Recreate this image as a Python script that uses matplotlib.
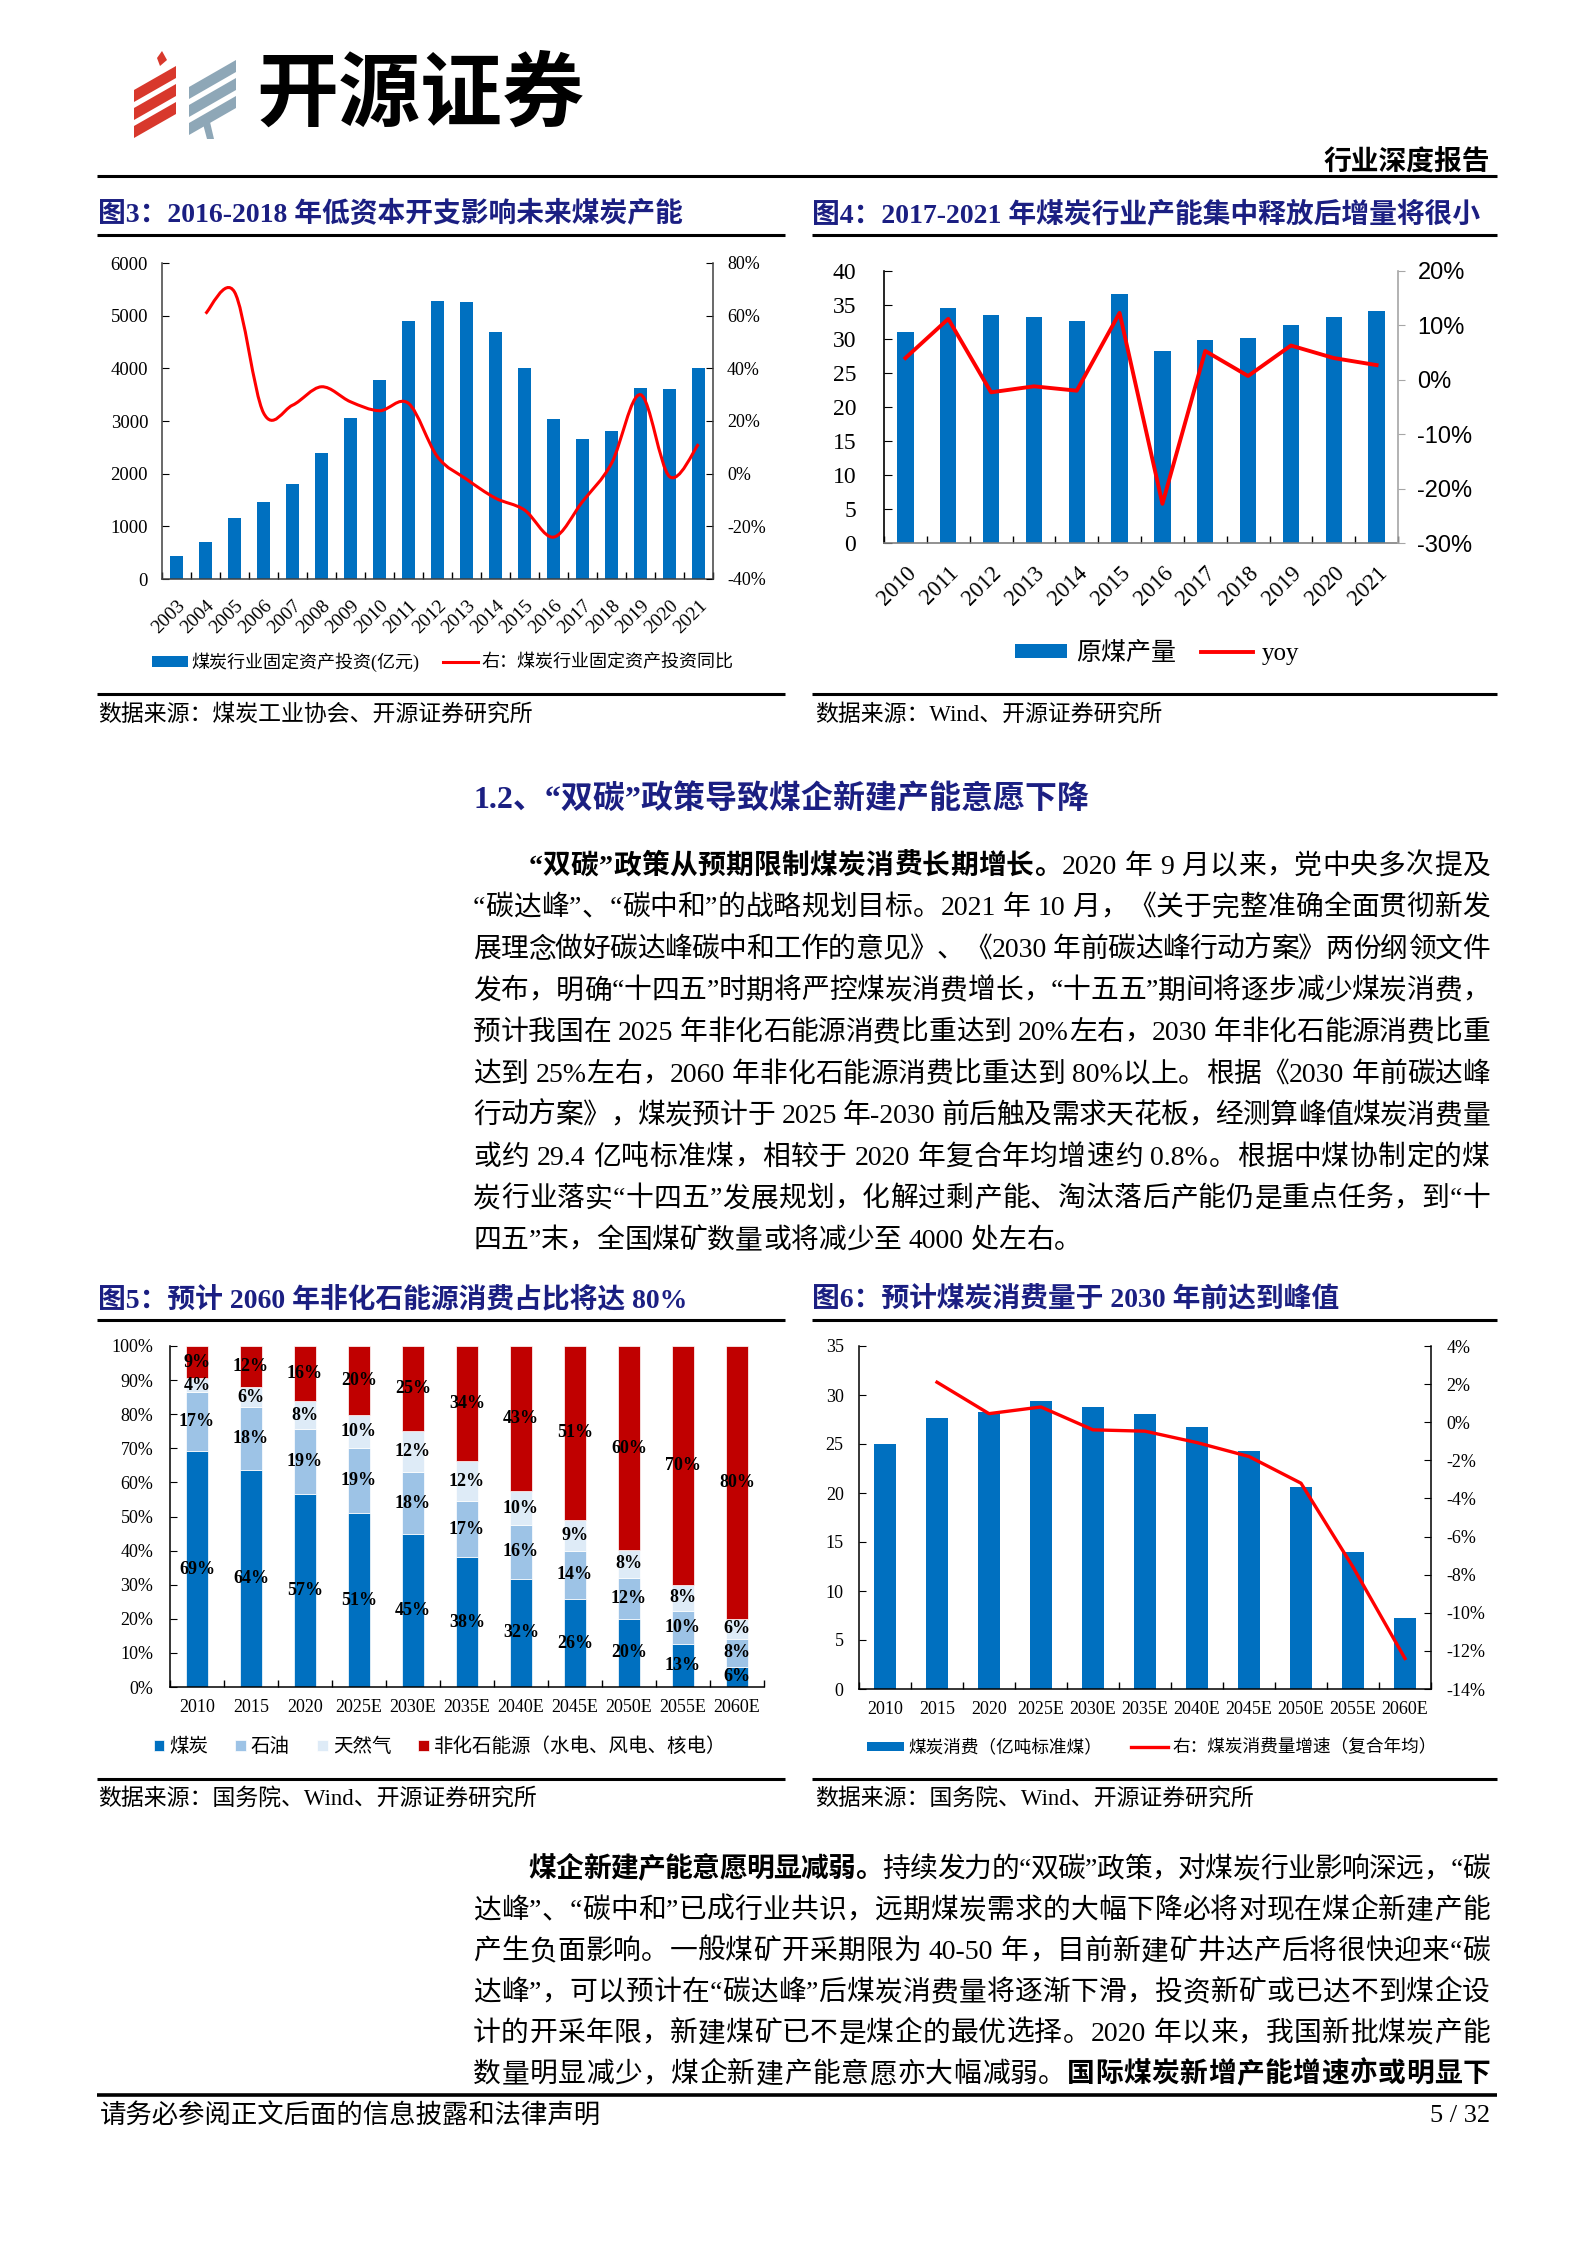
import matplotlib
matplotlib.use('Agg')
import matplotlib.pyplot as plt
from matplotlib.patches import Polygon, PathPatch
from matplotlib.path import Path
from matplotlib.lines import Line2D
from matplotlib.ticker import FuncFormatter
import numpy as np

W, H, DPI = 1587, 2245, 100
SERIF = ['Liberation Serif', 'Noto Sans CJK SC']
SANS = ['Liberation Sans', 'Noto Sans CJK SC']
CJK = ['Noto Sans CJK SC', 'DejaVu Sans']
NAVY = '#1b1f82'
BLUE = '#0070C0'
RED = '#FF0000'

plt.rcParams['font.family'] = SERIF
plt.rcParams['axes.unicode_minus'] = False

# ---------------- data ----------------
fig3_years = [str(y) for y in range(2003, 2022)]
fig3_invest = [430, 700, 1160, 1465, 1810, 2400, 3055, 3780, 4905, 5285,
               5265, 4685, 4005, 3040, 2655, 2810, 3630, 3605, 4005]
fig3_yoy = [60.8, 69.0, 23.1, 26.0, 33.0, 27.3, 23.9, 26.7, 6.4, -2.1,
            -9.3, -13.8, -24.1, -10.6, 3.9, 30.0, -1.1, 11.2]  # 2004-2021

fig4_years = [str(y) for y in range(2010, 2022)]
fig4_output = [31.1, 34.5, 33.5, 33.2, 32.6, 36.6, 28.3, 29.9, 30.1, 32.0, 33.2, 34.1]
fig4_yoy = [4.0, 11.2, -2.3, -1.2, -2.0, 12.3, -22.8, 5.3, 0.7, 6.3, 4.0, 2.7]

fig5_years = ['2010', '2015', '2020', '2025E', '2030E', '2035E', '2040E',
              '2045E', '2050E', '2055E', '2060E']
fig5_coal = [69.2, 63.7, 56.6, 51.0, 44.9, 38.0, 31.8, 25.8, 20.0, 12.6, 5.9]
fig5_oil = [17.2, 18.3, 19.0, 19.0, 18.1, 16.6, 15.6, 14.2, 12.1, 9.8, 8.2]
fig5_gas = [4.2, 6.0, 8.3, 9.9, 12.0, 11.6, 10.0, 9.0, 8.0, 7.6, 5.9]
fig5_nonfossil = [9.4, 12.0, 16.1, 20.1, 25.0, 33.8, 42.6, 51.0, 59.9, 70.0, 80.0]
fig5_names = ['煤炭', '石油', '天然气', '非化石能源（水电、风电、核电）']

fig6_years = fig5_years
fig6_consumption = [25.0, 27.7, 28.3, 29.4, 28.8, 28.1, 26.7, 24.3, 20.6, 14.0, 7.2]
fig6_growth = [2.1, 0.45, 0.8, -0.4, -0.47, -1.07, -1.8, -3.2, -7.6, -12.4]  # 2015-2060E

para1 = [
    [('“双碳”政策从预期限制煤炭消费长期增长。', True), ('2020 年 9 月以来，党中央多次提及', False)],
    [('“碳达峰”、“碳中和”的战略规划目标。2021 年 10 月，《关于完整准确全面贯彻新发', False)],
    [('展理念做好碳达峰碳中和工作的意见》、《2030 年前碳达峰行动方案》两份纲领文件', False)],
    [('发布，明确“十四五”时期将严控煤炭消费增长，“十五五”期间将逐步减少煤炭消费，', False)],
    [('预计我国在 2025 年非化石能源消费比重达到 20%左右，2030 年非化石能源消费比重', False)],
    [('达到 25%左右，2060 年非化石能源消费比重达到 80%以上。根据《2030 年前碳达峰', False)],
    [('行动方案》，煤炭预计于 2025 年-2030 前后触及需求天花板，经测算峰值煤炭消费量', False)],
    [('或约 29.4 亿吨标准煤，相较于 2020 年复合年均增速约 0.8%。根据中煤协制定的煤', False)],
    [('炭行业落实“十四五”发展规划，化解过剩产能、淘汰落后产能仍是重点任务，到“十', False)],
    [('四五”末，全国煤矿数量或将减少至 4000 处左右。', False)],
]
para2 = [
    [('煤企新建产能意愿明显减弱。', True), ('持续发力的“双碳”政策，对煤炭行业影响深远，“碳', False)],
    [('达峰”、“碳中和”已成行业共识，远期煤炭需求的大幅下降必将对现在煤企新建产能', False)],
    [('产生负面影响。一般煤矿开采期限为 40-50 年，目前新建矿井达产后将很快迎来“碳', False)],
    [('达峰”，可以预计在“碳达峰”后煤炭消费量将逐渐下滑，投资新矿或已达不到煤企设', False)],
    [('计的开采年限，新建煤矿已不是煤企的最优选择。2020 年以来，我国新批煤炭产能', False)],
    [('数量明显减少，煤企新建产能意愿亦大幅减弱。', False), ('国际煤炭新增产能增速亦或明显下', True)],
]

fig = plt.figure(figsize=(W / DPI, H / DPI), dpi=DPI)
renderer = fig.canvas.get_renderer()


def fx(x):
    return x / W


def fy(y):
    return 1 - y / H


def axes_rect(l, t, r, b):
    return [fx(l), fy(b), (r - l) / W, (b - t) / H]


def hline(x0, x1, y, lw):
    fig.add_artist(Line2D([fx(x0), fx(x1)], [fy(y), fy(y)], transform=fig.transFigure,
                          color='black', lw=lw, solid_capstyle='butt'))


def pct(v, _):
    return f'{v:.0f}%'


# ---------------- justified body text ----------------
_widths = {}


def tok_width(tok, bold, fs):
    key = (tok, bold, fs)
    if key not in _widths:
        if tok == ' ':
            _widths[key] = 0.25 * fs * DPI / 72
        else:
            t = fig.text(0, 0, tok, fontsize=fs, family=SERIF, weight='bold' if bold else 'normal')
            _widths[key] = t.get_window_extent(renderer).width
            t.remove()
    return _widths[key]


def tokenize(segs):
    toks = []
    for s, b in segs:
        buf = ''
        for ch in s:
            if ch.isascii() and ch != ' ':
                buf += ch
            else:
                if buf:
                    toks.append((buf, b))
                    buf = ''
                toks.append((ch, b))
        if buf:
            toks.append((buf, b))
    return toks


def draw_line(segs, x0, x1, y, fs, justify):
    toks = tokenize(segs)
    widths = [tok_width(t, b, fs) for t, b in toks]
    gap = (x1 - x0 - sum(widths)) / (len(toks) - 1) if justify else 0
    x = x0
    for (t, b), w in zip(toks, widths):
        if t != ' ':
            fig.text(fx(x), fy(y), t, fontsize=fs, family=SERIF,
                     weight='bold' if b else 'normal', ha='left', va='baseline')
        x += w + gap


def draw_para(lines, y_center0, step, fs, last_justify):
    indent = 2 * fs * DPI / 72
    for i, segs in enumerate(lines):
        x0 = 473 + (indent if i == 0 else 0)
        justify = i < len(lines) - 1 or last_justify
        draw_line(segs, x0, 1490, y_center0 + i * step + 10.5, fs, justify)


def smooth_path(xs, ys):
    pts = np.column_stack([xs, ys]).astype(float)
    verts, codes = [pts[0]], [Path.MOVETO]
    n = len(pts)
    for i in range(n - 1):
        p0 = pts[i - 1] if i > 0 else pts[i]
        p1, p2 = pts[i], pts[i + 1]
        p3 = pts[i + 2] if i + 2 < n else pts[i + 1]
        verts += [p1 + (p2 - p0) / 6, p2 - (p3 - p1) / 6, p2]
        codes += [Path.CURVE4] * 3
    return Path(verts, codes)


def category_ticks(ax, n, labelsize, pad):
    x = np.arange(n)
    ax.set_xlim(-0.5, n - 0.5)
    ax.set_xticks(x)
    ax.set_xticks(np.arange(n + 1) - 0.5, minor=True)
    ax.tick_params(axis='x', which='major', length=0, pad=pad, labelsize=labelsize)
    ax.tick_params(axis='x', which='minor', direction='in', length=5, width=1)
    return x


# ---------------- header ----------------
red_logo = '#d8382c'
gray_logo = '#8ea7b7'
for k in range(3):
    yb = 102 + 18 * k
    fig.add_artist(Polygon([(fx(134), fy(yb)), (fx(134), fy(yb - 12)), (fx(176), fy(yb - 36)),
                            (fx(176), fy(yb - 24))], closed=True, transform=fig.transFigure,
                           color=red_logo, lw=0))
    yb2 = 99 + 18 * k
    fig.add_artist(Polygon([(fx(189), fy(yb2)), (fx(189), fy(yb2 - 12)), (fx(236), fy(yb2 - 39)),
                            (fx(236), fy(yb2 - 27))], closed=True, transform=fig.transFigure,
                           color=gray_logo, lw=0))
fig.add_artist(Polygon([(fx(160), fy(66)), (fx(157), fy(58)), (fx(162), fy(51)), (fx(167), fy(60))],
                       closed=True, transform=fig.transFigure, color=red_logo, lw=0))
fig.add_artist(Polygon([(fx(203), fy(124)), (fx(210), fy(122)), (fx(214), fy(139)), (fx(207), fy(139))],
                       closed=True, transform=fig.transFigure, color=gray_logo, lw=0))
fig.text(fx(256), fy(96), '开源证券', fontsize=59, weight='bold', family=CJK, va='center', ha='left')
fig.text(fx(1490), fy(162), '行业深度报告', fontsize=20, weight='bold', family=CJK, va='center', ha='right')
hline(97, 1497, 176, 2.2)

# ---------------- chart titles / frames ----------------
titles = [
    (98, 215, '图3：2016-2018 年低资本开支影响未来煤炭产能'),
    (812, 215, '图4：2017-2021 年煤炭行业产能集中释放后增量将很小'),
    (98, 1300, '图5：预计 2060 年非化石能源消费占比将达 80%'),
    (812, 1300, '图6：预计煤炭消费量于 2030 年前达到峰值'),
]
for x0, y0, t in titles:
    fig.text(fx(x0), fy(y0), t, fontsize=20, weight='bold', color=NAVY, va='center', ha='left')
for y0 in (235, 1320):
    hline(97, 785, y0, 2.2)
    hline(812, 1497, y0, 2.2)
for y0 in (694, 1779):
    hline(97, 785, y0, 2.2)
    hline(812, 1497, y0, 2.2)
sources = [
    (98, 716, '数据来源：煤炭工业协会、开源证券研究所'),
    (815, 716, '数据来源：Wind、开源证券研究所'),
    (98, 1800, '数据来源：国务院、Wind、开源证券研究所'),
    (815, 1800, '数据来源：国务院、Wind、开源证券研究所'),
]
for x0, y0, t in sources:
    fig.text(fx(x0), fy(y0), t, fontsize=16.5, va='center', ha='left')

# ---------------- Figure 3 ----------------
ax = fig.add_axes(axes_rect(162, 263, 713, 579))
x = category_ticks(ax, len(fig3_years), 14, 13)
b3 = ax.bar(x, fig3_invest, width=0.42, color=BLUE, zorder=2)
ax.set_ylim(0, 6000)
ax.set_yticks(range(0, 6001, 1000))
ax.set_xticklabels(fig3_years, rotation=45, ha='right', va='top', rotation_mode='anchor')
ax.tick_params(axis='y', direction='in', length=5, pad=10, labelsize=13.5)
ax2 = ax.twinx()
ax2.set_ylim(-40, 80)
ax2.set_yticks(range(-40, 81, 20))
ax2.yaxis.set_major_formatter(FuncFormatter(pct))
ax2.tick_params(axis='y', direction='in', length=5, pad=10, labelsize=13)
ax2.add_patch(PathPatch(smooth_path(x[1:], fig3_yoy), fill=False, ec=RED, lw=2.2, zorder=3))
for a in (ax, ax2):
    a.spines['top'].set_visible(False)
    for s in a.spines.values():
        s.set_color('#404040')
        s.set_linewidth(1.1)
ax.spines['right'].set_visible(False)
ax2.spines['left'].set_visible(False)
ax2.spines['bottom'].set_visible(False)
fig.legend([b3, Line2D([], [], color=RED, lw=2.2)],
           ['煤炭行业固定资产投资(亿元)', '右：煤炭行业固定资产投资同比'],
           loc='center', bbox_to_anchor=(fx(443), fy(662)), ncol=2, frameon=False,
           prop={'family': SERIF, 'size': 13}, handlelength=1.95, handleheight=0.6,
           handletextpad=0.2, columnspacing=1.3)

# ---------------- Figure 4 ----------------
ax = fig.add_axes(axes_rect(884, 271, 1398, 543))
x = category_ticks(ax, len(fig4_years), 16.5, 14)
b4 = ax.bar(x, fig4_output, width=0.38, color=BLUE, zorder=2)
ax.set_ylim(0, 40)
ax.set_yticks(range(0, 41, 5))
ax.set_xticklabels(fig4_years, rotation=45, ha='right', va='top', rotation_mode='anchor')
ax.tick_params(axis='y', direction='in', length=6, pad=20, labelsize=17)
ax2 = ax.twinx()
ax2.set_ylim(-30, 20)
ax2.set_yticks(range(-30, 21, 10))
ax2.yaxis.set_major_formatter(FuncFormatter(pct))
ax2.tick_params(axis='y', direction='out', length=5, pad=9, labelsize=17, color='#a6a6a6')
for lab in ax2.get_yticklabels():
    lab.set_family(SANS)
l4, = ax2.plot(x, fig4_yoy, color=RED, lw=2.8, zorder=3)
ax.spines['top'].set_visible(False)
ax.spines['right'].set_visible(False)
ax.spines['left'].set_linewidth(1.2)
ax.spines['bottom'].set_color('#7f7f7f')
ax.spines['bottom'].set_linewidth(1.2)
for s in ('top', 'left', 'bottom'):
    ax2.spines[s].set_visible(False)
ax2.spines['right'].set_color('#a6a6a6')
ax2.spines['right'].set_linewidth(1.2)
fig.legend([b4, l4], ['原煤产量', 'yoy'], loc='center', bbox_to_anchor=(fx(1157), fy(653)),
           ncol=2, frameon=False, prop={'family': SERIF, 'size': 18}, handlelength=2.1,
           handleheight=0.48, handletextpad=0.35, columnspacing=1.0)

# ---------------- Figure 5 ----------------
ax = fig.add_axes(axes_rect(170, 1346, 764, 1687))
x = category_ticks(ax, len(fig5_years), 13, 9)
ax.set_xticklabels(fig5_years)
ax.set_ylim(0, 100)
ax.set_yticks(range(0, 101, 10))
ax.yaxis.set_major_formatter(FuncFormatter(pct))
ax.tick_params(axis='y', direction='in', length=5, pad=12, labelsize=13)
colors5 = [BLUE, '#9DC3E6', '#DEEBF7', '#C00000']
bottom = np.zeros(len(x))
handles5 = []
for vals, col in zip([fig5_coal, fig5_oil, fig5_gas, fig5_nonfossil], colors5):
    c = ax.bar(x, vals, width=0.4, bottom=bottom, color=col, edgecolor='white', linewidth=0.5, zorder=2)
    ax.bar_label(c, labels=[f'{v:.0f}%' for v in vals], label_type='center',
                 fontsize=13, fontweight='bold', family=SERIF)
    handles5.append(c)
    bottom = bottom + np.array(vals)
for s in ('top', 'right'):
    ax.spines[s].set_visible(False)
for s in ('left', 'bottom'):
    ax.spines[s].set_linewidth(1.1)
fig.legend(handles5, fig5_names, loc='center', bbox_to_anchor=(fx(440), fy(1747)), ncol=4,
           frameon=False, prop={'family': SERIF, 'size': 14}, handlelength=0.55,
           handleheight=0.55, handletextpad=0.25, columnspacing=1.4)

# ---------------- Figure 6 ----------------
ax = fig.add_axes(axes_rect(859, 1346, 1431, 1689))
x = category_ticks(ax, len(fig6_years), 13, 9)
ax.set_xticklabels(fig6_years)
b6 = ax.bar(x, fig6_consumption, width=0.41, color=BLUE, zorder=2)
ax.set_ylim(0, 35)
ax.set_yticks(range(0, 36, 5))
ax.tick_params(axis='y', direction='in', length=5, pad=11, labelsize=13)
ax2 = ax.twinx()
ax2.set_ylim(-14, 4)
ax2.set_yticks(range(-14, 5, 2))
ax2.yaxis.set_major_formatter(FuncFormatter(pct))
ax2.tick_params(axis='y', direction='in', length=5, pad=11, labelsize=13)
l6, = ax2.plot(x[1:], fig6_growth, color=RED, lw=2.4, zorder=3)
ax.spines['top'].set_visible(False)
ax.spines['right'].set_visible(False)
for s in ('top', 'left', 'bottom'):
    ax2.spines[s].set_visible(False)
for a in (ax, ax2):
    for s in a.spines.values():
        s.set_linewidth(1.1)
fig.legend([b6, l6], ['煤炭消费（亿吨标准煤）', '右：煤炭消费量增速（复合年均）'], loc='center',
           bbox_to_anchor=(fx(1152), fy(1748)), ncol=2, frameon=False,
           prop={'family': SERIF, 'size': 12.7}, handlelength=2.1, handleheight=0.45,
           handletextpad=0.25, columnspacing=1.6)

# ---------------- body text ----------------
fig.text(fx(473), fy(800), '1.2、“双碳”政策导致煤企新建产能意愿下降', fontsize=23, weight='bold',
         color=NAVY, va='center', ha='left')
draw_para(para1, 863, 41.6, 20, False)
draw_para(para2, 1866.5, 41.0, 20, True)

# ---------------- footer ----------------
hline(97, 1497, 2095, 2.6)
fig.text(fx(100), fy(2116), '请务必参阅正文后面的信息披露和法律声明', fontsize=19, va='center', ha='left')
fig.text(fx(1490), fy(2116), '5 / 32', fontsize=19, va='center', ha='right')

fig.savefig('out.png', dpi=DPI)
